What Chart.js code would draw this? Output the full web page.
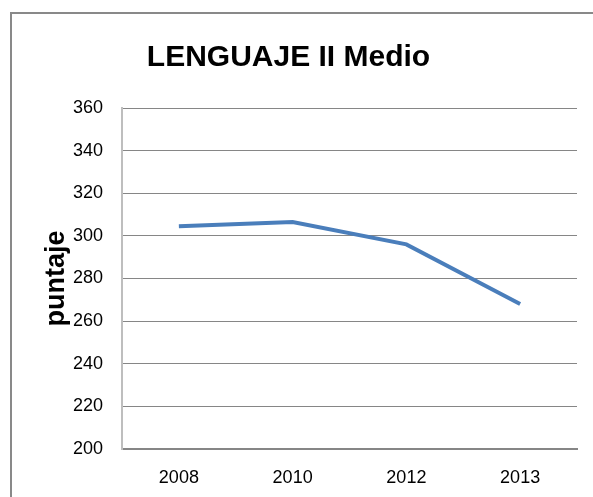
<!DOCTYPE html>
<html lang="es">
<head>
<meta charset="UTF-8">
<title>LENGUAJE II Medio</title>
<script src="https://cdn.jsdelivr.net/npm/chart.js"></script>
<style>
    html, body { margin: 0; padding: 0; background: #fff; }
    #wrap { position: relative; width: 593px; height: 497px; overflow: hidden; }
</style>
</head>
<body>
<div id="wrap"><canvas id="chart" width="593" height="497"></canvas></div>
<script>
// Data
const years = ['2008', '2010', '2012', '2013'];
const puntaje = [304.5, 306.5, 296, 268];
const yMin = 200;
const yMax = 360;
const yStep = 20;

const titleText = 'LENGUAJE II Medio';
const yTitle = 'puntaje';

// Excel-style outer frame, open to the right and bottom like the crop
const framePlugin = {
    id: 'frame',
    beforeDraw(chart) {
        const ctx = chart.ctx;
        ctx.save();
        ctx.fillStyle = '#fff';
        ctx.fillRect(0, 0, chart.width, chart.height);
        ctx.strokeStyle = '#898989';
        ctx.lineWidth = 2;
        ctx.strokeRect(11, 13, 800, 800);
        ctx.restore();
    }
};

new Chart(document.getElementById('chart'), {
    type: 'line',
    data: {
        labels: years,
        datasets: [{
            label: yTitle,
            data: puntaje,
            borderColor: '#4A7EBB',
            borderWidth: 4,
            pointRadius: 0,
            tension: 0,
            fill: false
        }]
    },
    options: {
        responsive: false,
        animation: false,
        layout: { padding: { left: 0, right: 16, top: 0, bottom: 0 } },
        plugins: {
            legend: { display: false },
            tooltip: { enabled: false },
            title: {
                display: true,
                text: titleText,
                color: '#000',
                font: { family: '"Liberation Sans", sans-serif', size: 30, weight: 'bold', lineHeight: 1.2 },
                padding: { top: 40, bottom: 32 }
            }
        },
        scales: {
            x: {
                offset: true,
                grid: { display: false, drawTicks: false },
                border: { display: true, color: '#868686', width: 2 },
                ticks: {
                    color: '#000',
                    padding: 18,
                    font: { family: '"Liberation Sans", sans-serif', size: 18 }
                },
                afterFit(scale) { scale.height = 48; }
            },
            y: {
                min: yMin,
                max: yMax,
                grid: { color: '#868686', lineWidth: 1, drawTicks: false },
                border: { display: true, color: '#BEBEBE', width: 2 },
                ticks: {
                    stepSize: yStep,
                    color: '#000',
                    padding: 19,
                    font: { family: '"Liberation Sans", sans-serif', size: 18 }
                },
                title: {
                    display: true,
                    text: yTitle,
                    color: '#000',
                    font: { family: '"Liberation Sans", sans-serif', size: 27, weight: 'bold', lineHeight: 1.2 },
                    padding: { top: 40, bottom: 0 }
                },
                afterFit(scale) { scale.width = 122; }
            }
        }
    },
    plugins: [framePlugin]
});
</script>
</body>
</html>
